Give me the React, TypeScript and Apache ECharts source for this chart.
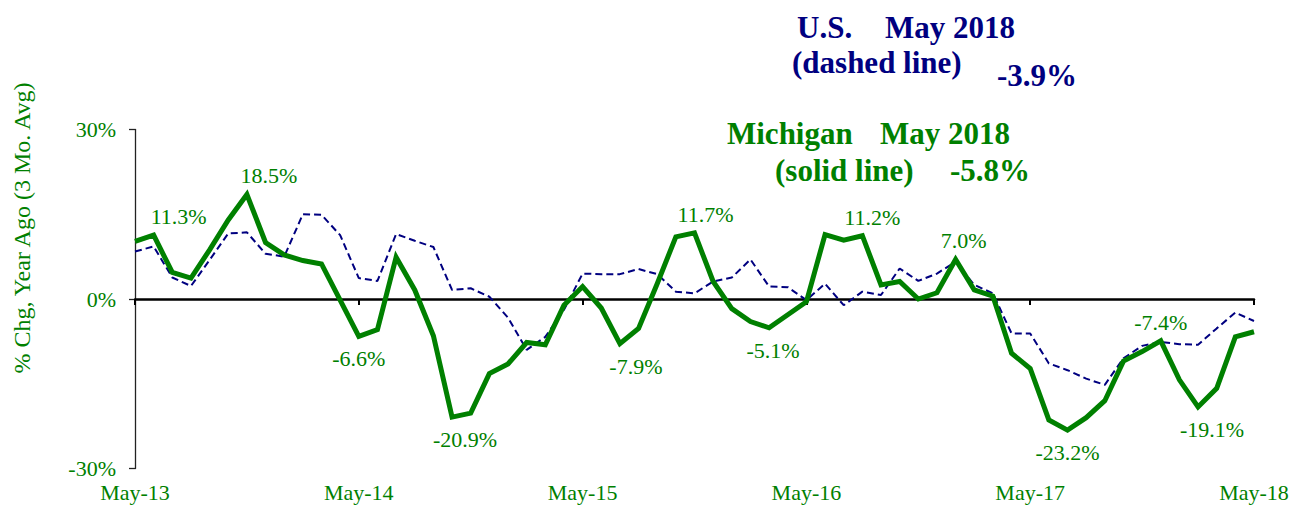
import React, { useEffect, useRef } from "react";
import * as echarts from "echarts";

const MONTHS = ["Jan", "Feb", "Mar", "Apr", "May", "Jun", "Jul", "Aug", "Sep", "Oct", "Nov", "Dec"];
// May-2013 .. May-2018 monthly
const categories: string[] = [];
for (let k = 0; k <= 60; k++) {
  const m = (4 + k) % 12;
  const y = 13 + Math.floor((4 + k) / 12);
  categories.push(MONTHS[m] + "-" + y);
}

const michigan = [
  10.2, 11.3, 4.7, 3.7, 8.7, 14.0, 18.5, 10.0, 7.8, 6.8, 6.2, -0.2,
  -6.6, -5.4, 7.4, 1.6, -6.5, -20.9, -20.2, -13.2, -11.5, -7.7, -8.1, -1.1,
  2.2, -1.6, -7.9, -5.2, 2.7, 11.0, 11.7, 3.1, -1.7, -4.0, -5.1, -2.8,
  -0.5, 11.4, 10.4, 11.2, 2.5, 3.1, 0.0, 1.1, 7.0, 1.6, 0.5, -9.6,
  -12.3, -21.4, -23.2, -21.0, -18.0, -11.0, -9.3, -7.4, -14.3, -19.1, -15.8, -6.7,
  -5.8,
];

const us = [
  8.4, 9.3, 3.8, 2.3, 6.9, 11.6, 11.8, 8.0, 7.5, 15.0, 14.9, 11.3,
  3.7, 3.2, 11.5, 10.3, 9.2, 1.6, 1.9, 0.4, -3.3, -9.0, -6.7, -1.9,
  4.5, 4.4, 4.4, 5.3, 4.4, 1.3, 1.0, 3.1, 3.8, 7.0, 2.2, 2.1,
  -0.2, 2.7, -1.1, 1.3, 0.7, 5.4, 3.2, 4.5, 6.6, 2.5, 1.0, -6.1,
  -6.1, -11.4, -12.6, -14.1, -15.2, -10.5, -8.3, -7.6, -8.0, -8.1, -5.2, -2.4,
  -3.9,
];

// indexes of Michigan points that carry a value label
const labelledPoints = [1, 6, 12, 17, 26, 30, 34, 39, 44, 50, 55, 57];

const yTicks = [-30, 0, 30];

const GREEN = "#008000";
const NAVY = "#000080";
const FONT = "'Liberation Serif', 'Times New Roman', serif";

// presentation-only tweaks for label placement (horizontal nudge in px)
const labelNudge: Record<number, number> = {
  1: 25, 6: 22, 12: 0, 17: 13, 26: 16, 30: 11, 34: 4, 39: 10, 44: 8, 50: 0, 55: 0, 57: 14,
};

const fmt = (v: number) => v.toFixed(1) + "%";

export default function App() {
  const ref = useRef<HTMLDivElement>(null);

  useEffect(() => {
    document.body.style.margin = "0";
    if (!ref.current) return;
    const chart = echarts.init(ref.current, undefined, { renderer: "svg" });

    const miData = michigan.map((v, i) => {
      if (!labelledPoints.includes(i)) return { value: v, symbol: "none" };
      const prev = michigan[i - 1] ?? v;
      const next = michigan[i + 1] ?? v;
      const isPeak = v >= prev && v >= next;
      return {
        value: v,
        symbol: "circle",
        symbolSize: 1,
        label: {
          show: true,
          position: isPeak ? "top" : "bottom",
          distance: isPeak ? 7 : 11,
          offset: [labelNudge[i] || 0, 0],
          formatter: (p: any) => fmt(p.value),
          color: GREEN,
          fontSize: 22,
          fontFamily: FONT,
        },
      };
    });

    const titleText = (text: string, x: number, y: number, color: string) => ({
      type: "text",
      x,
      y,
      style: {
        text,
        fill: color,
        fontSize: 31,
        fontWeight: "bold",
        fontFamily: FONT,
        align: "left",
        verticalAlign: "middle",
      },
    });

    chart.setOption({
      animation: false,
      backgroundColor: "#ffffff",
      grid: { left: 135, right: 48, top: 129.5, bottom: 41.5, containLabel: false },
      xAxis: [
        {
          type: "category",
          data: categories,
          boundaryGap: false,
          axisLine: { show: true, onZero: true, lineStyle: { color: "#000", width: 2.5 } },
          axisTick: { show: true, interval: 11, length: 6, lineStyle: { color: "#000", width: 2 } },
          axisLabel: { show: false },
          splitLine: { show: false },
        },
        {
          type: "category",
          data: categories,
          boundaryGap: false,
          position: "bottom",
          axisLine: { show: false, onZero: false },
          axisTick: { show: false },
          axisLabel: {
            interval: 11,
            color: GREEN,
            fontSize: 22,
            fontFamily: FONT,
            margin: 13,
          },
          splitLine: { show: false },
        },
      ],
      yAxis: {
        type: "value",
        min: yTicks[0],
        max: yTicks[yTicks.length - 1],
        interval: 30,
        axisLine: { show: true, lineStyle: { color: "#222", width: 1.3 } },
        axisTick: { show: true, length: 6, lineStyle: { color: "#222", width: 1.3 } },
        axisLabel: {
          color: GREEN,
          fontSize: 22,
          fontFamily: FONT,
          margin: 19,
          formatter: (v: number) => v + "%",
        },
        splitLine: { show: false },
      },
      series: [
        {
          name: "U.S.",
          type: "line",
          data: us,
          xAxisIndex: 0,
          symbol: "none",
          lineStyle: { color: NAVY, width: 2, type: [7, 4] },
          z: 3,
        },
        {
          name: "Michigan",
          type: "line",
          data: miData,
          xAxisIndex: 0,
          showSymbol: true,
          symbol: "circle",
          symbolSize: 1,
          itemStyle: { color: GREEN },
          lineStyle: { color: GREEN, width: 5, join: "miter", miterLimit: 4 },
          z: 4,
        },
      ],
      graphic: [
        {
          type: "text",
          x: 22,
          y: 228,
          rotation: Math.PI / 2,
          style: {
            text: "% Chg, Year Ago (3 Mo. Avg)",
            fill: GREEN,
            fontSize: 24,
            fontFamily: FONT,
            align: "center",
            verticalAlign: "middle",
          },
        },
        titleText("U.S.", 797, 27, NAVY),
        titleText("May 2018", 885, 27, NAVY),
        titleText("(dashed line)", 792, 62, NAVY),
        titleText(fmt(us[us.length - 1]), 997, 75, NAVY),
        titleText("Michigan", 727, 133, GREEN),
        titleText("May 2018", 880, 133, GREEN),
        titleText("(solid line)", 775, 170, GREEN),
        titleText(fmt(michigan[michigan.length - 1]), 950, 170, GREEN),
      ],
    });

    return () => chart.dispose();
  }, []);

  return <div ref={ref} style={{ width: 1302, height: 510 }} />;
}
